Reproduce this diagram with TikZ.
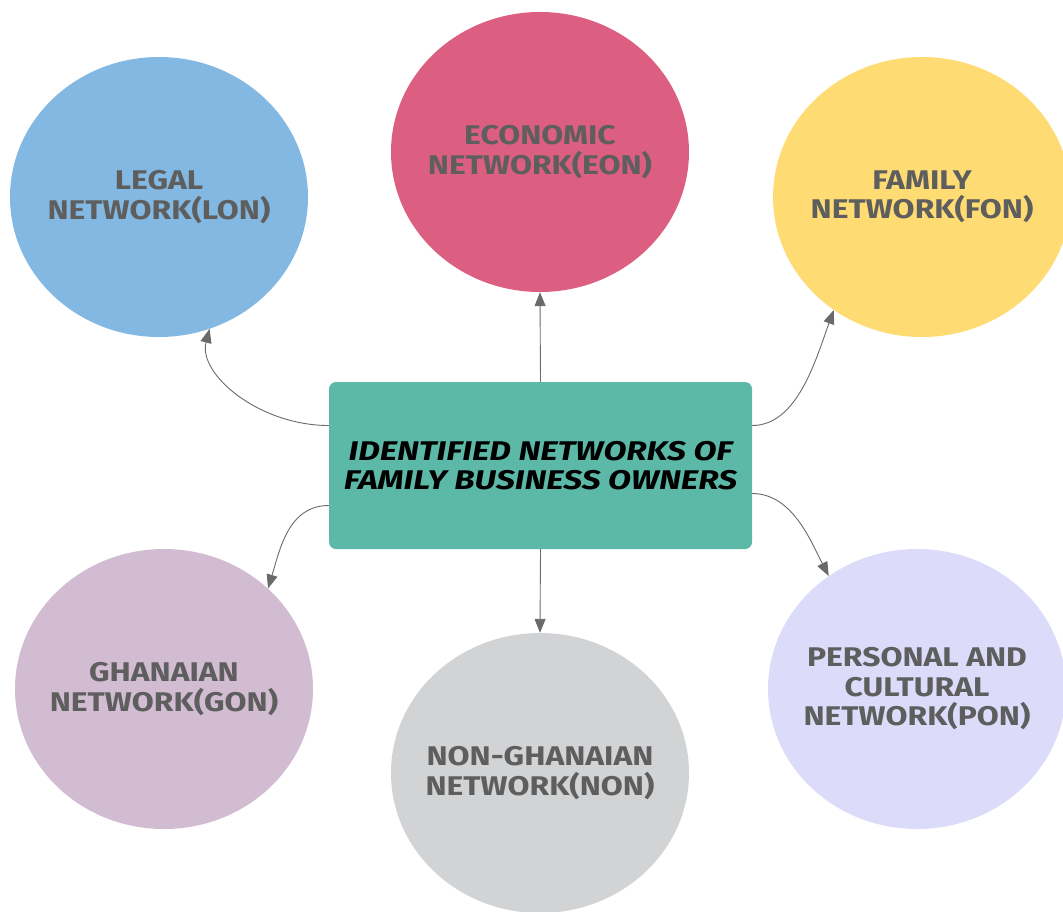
\documentclass[tikz,border=0pt]{standalone}
\usepackage{fontspec}
\setmainfont{Fira Sans}
\newfontfamily\bubblefont[FakeStretch=1.18]{Fira Sans}
\newfontfamily\hubfont[FakeStretch=1.24]{Fira Sans}
\usetikzlibrary{arrows.meta,shapes.geometric}

\definecolor{legalblue}{HTML}{82B8E2}
\definecolor{econpink}{HTML}{DC5F82}
\definecolor{famyellow}{HTML}{FEDC73}
\definecolor{ghanalilac}{HTML}{D2BCD2}
\definecolor{nongrey}{HTML}{D2D3D5}
\definecolor{perslav}{HTML}{DCDCFA}
\definecolor{hubteal}{HTML}{5CB9A8}
\definecolor{labelgrey}{HTML}{5E5E5E}
\definecolor{linkgrey}{HTML}{6A6A6A}

\begin{document}
\begin{tikzpicture}[x=1pt,y=-1pt,
  bubble/.style={ellipse, minimum width=298pt, minimum height=280pt,
    inner sep=0pt},
  bubbletext/.style={align=center, text=labelgrey, inner sep=0pt,
    font=\bubblefont\bfseries\fontsize{27}{29.5}\selectfont},
  hubbox/.style={rectangle, rounded corners=7pt, fill=hubteal,
    minimum width=423pt, minimum height=167pt, inner sep=0pt,
    align=center, text=black,
    font=\hubfont\bfseries\itshape\fontsize{27}{29.5}\selectfont},
  link/.style={draw=linkgrey, line width=0.9pt,
    -{Triangle[length=14pt,width=11pt]}}]
\useasboundingbox (0,0) rectangle (1063,911);
\clip (0,0) rectangle (1063,911);

% outer network bubbles, each with its label set in the middle
\node[bubble, fill=legalblue,
  label={[bubbletext]center:LEGAL\\NETWORK(LON)}] (legal) at (159,197) {};
\node[bubble, fill=econpink,
  label={[bubbletext]center:ECONOMIC\\NETWORK(EON)}] (econ) at (540,152) {};
\node[bubble, fill=famyellow,
  label={[bubbletext]center:FAMILY\\NETWORK(FON)}] (fam) at (922,197) {};
\node[bubble, fill=ghanalilac,
  label={[bubbletext]center:GHANAIAN\\NETWORK(GON)}] (ghana) at (164,689) {};
\node[bubble, fill=nongrey,
  label={[bubbletext]center:NON-GHANAIAN\\NETWORK(NON)}] (non) at (540,773) {};
\node[bubble, fill=perslav,
  label={[bubbletext]center:PERSONAL AND\\CULTURAL\\NETWORK(PON)}] (pers) at (917,689) {};

% central box
\node[hubbox] (hub) at (540.5,465.5) {IDENTIFIED NETWORKS OF\\FAMILY BUSINESS OWNERS};

% connectors
\draw[link] ([yshift=40pt]hub.west) .. controls +(-70pt,0pt) and +(-12pt,-45pt) .. (legal.-69);
\draw[link] (hub.north) -- (econ.south);
\draw[link] ([yshift=40pt]hub.east) .. controls +(45pt,0pt) and +(-18pt,-50pt) .. (fam.-128);
\draw[link] ([yshift=-40pt]hub.west) .. controls +(-40pt,0pt) and +(12pt,40pt) .. (ghana.44);
\draw[link] (hub.south) -- (non.north);
\draw[link] ([yshift=-28pt]hub.east) .. controls +(40pt,0pt) and +(-18pt,35pt) .. (pers.128);
\end{tikzpicture}
\end{document}
